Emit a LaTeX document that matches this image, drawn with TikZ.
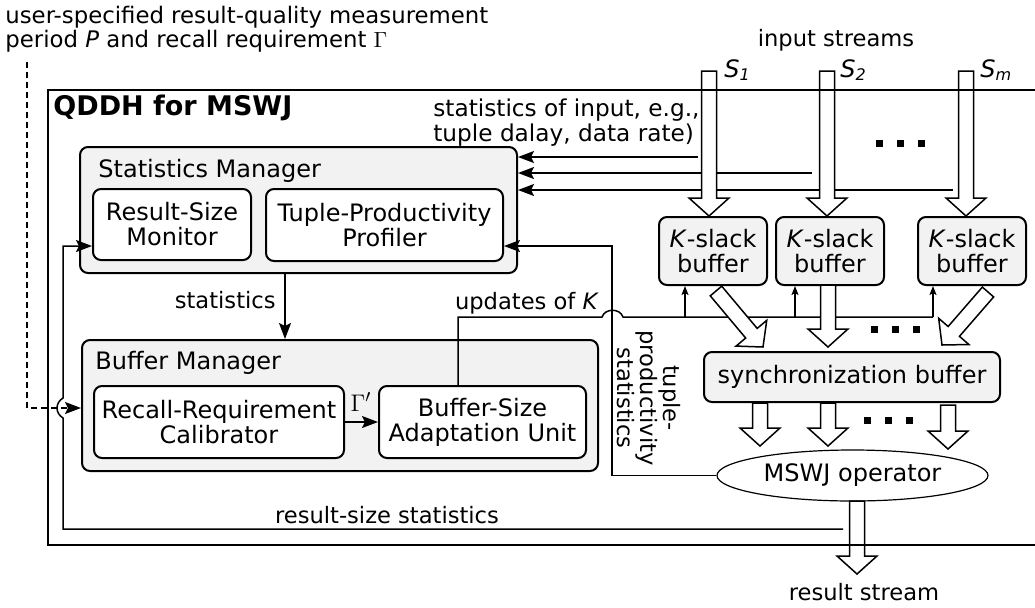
\documentclass[tikz,border=0pt]{standalone}
\usepackage{fontspec}
\setmainfont{DejaVu Sans}
\usetikzlibrary{calc,arrows.meta,shapes.geometric}

\definecolor{boxgray}{RGB}{242,242,242}

% hollow block arrow from #1 to #2 (shaft 15, head 40 wide, head 18 long)
\newcommand\fatarrow[2]{%
  \coordinate (fa-neck) at ($(#2)!9pt!(#1)$);
  \draw[fatline]
    ($(#1)!3.75pt!90:(#2)$) -- ($(fa-neck)!3.75pt!90:(#2)$) --
    ($(fa-neck)!10pt!90:(#2)$) -- (#2) --
    ($(fa-neck)!10pt!-90:(#2)$) -- ($(fa-neck)!3.75pt!-90:(#2)$) --
    ($(#1)!3.75pt!-90:(#2)$) -- cycle;}

% row of three small squares
\newcommand\dotrow[3]{%
  \foreach \dx in {0,1,2}{\fill ($(#1,#3)+(\dx*#2,0)+(-3.5,-3.5)$) rectangle +(7,7);}}

\begin{document}
\begin{tikzpicture}[x=0.5pt,y=-0.5pt,
  every node/.style={font=\fontsize{12}{12.5}\selectfont},
  lbl/.style={font=\fontsize{11.3}{12}\selectfont, inner sep=0pt},
  grpbox/.style={draw, rounded corners=4pt, fill=boxgray, line width=1pt},
  unitbox/.style={draw, rounded corners=4pt, fill=white, line width=1pt, align=center, inner sep=0pt},
  kbox/.style={draw, rounded corners=4pt, fill=boxgray, line width=1pt, align=center, inner sep=0pt},
  fatline/.style={draw, fill=white, line width=0.75pt, line join=miter},
  conn/.style={line width=0.75pt, -{Stealth[length=8pt,width=6pt,inset=1.5pt]}},
  sconn/.style={line width=0.75pt, -{Stealth[length=4.5pt,width=3.5pt,inset=1pt]}},
  wire/.style={line width=0.75pt}]
\useasboundingbox (0,0) rectangle (1035,607);

% ---- text above the system
\node[lbl, anchor=north west, align=left, font=\fontsize{11.4}{12}\selectfont] (user) at (5,6)
  {user-specified result-quality measurement\\period \textit{P} and recall requirement $\Gamma$};
\node[lbl] (instr) at (836,40) {input streams};

% ---- managers
\node[grpbox, minimum width=218.5pt, minimum height=63pt] (sm) at (298.5,210) {};
\node[anchor=base west, inner sep=0pt] (smt) at (98,177) {Statistics Manager};
\node[unitbox, minimum width=79pt, minimum height=35.5pt] (rsm) at (172,224.5) {Result-Size\\Monitor};
\node[unitbox, minimum width=118.5pt, minimum height=36pt] (tpp) at (384.5,225) {Tuple-Productivity\\Profiler};

\node[grpbox, minimum width=258pt, minimum height=65.5pt] (bm) at (340,405.5) {};
\node[anchor=base west, inner sep=0pt] (bmt) at (95,369) {Buffer Manager};
\node[unitbox, minimum width=125pt, minimum height=36pt] (rrc) at (219,422) {Recall-Requirement\\Calibrator};
\node[unitbox, minimum width=103.5pt, minimum height=36pt] (bsa) at (482.5,422) {Buffer-Size\\Adaptation Unit};

% ---- buffers and operator
\node[kbox, minimum width=54pt, minimum height=34pt] (k1) at (713,251) {\textit{K}-slack\\buffer};
\node[kbox, minimum width=54pt, minimum height=34pt] (k2) at (830,251) {\textit{K}-slack\\buffer};
\node[kbox, minimum width=54pt, minimum height=34pt] (k3) at (972,251) {\textit{K}-slack\\buffer};
\node[kbox, minimum width=148pt, minimum height=25pt] (sync) at (852,377) {synchronization buffer};
\node[draw, ellipse, line width=0.6pt, minimum width=135.5pt, minimum height=25.5pt, inner sep=0pt] (op) at (852.5,475.5) {MSWJ operator};

% ---- input statistics to the statistics manager
\coordinate (st1) at (698,157);
\coordinate (st2) at (812,173);
\coordinate (st3) at (953,190);
\draw[conn] (st1) -- (st1 -| sm.east);
\draw[conn] (st2) -- (st2 -| sm.east);
\draw[conn] (st3) -- (st3 -| sm.east);
\node[lbl, anchor=west, align=left, font=\fontsize{11.6}{10}\selectfont] (instat) at (433,122.5)
  {statistics of input, e.g.,\\tuple dalay, data rate)};

% ---- input streams
\coordinate (in1) at (709,71);
\coordinate (in2) at (827,71);
\coordinate (in3) at (966,71);
\coordinate (in1e) at (in1 |- k1.north);
\coordinate (in2e) at (in2 |- k2.north);
\coordinate (in3e) at (in3 |- k3.north);
\fatarrow{in1}{in1e}
\fatarrow{in2}{in2e}
\fatarrow{in3}{in3e}
\node[anchor=west, inner sep=0pt] (s1) at (724,70) {\textit{S}\textsubscript{\textit{1}}};
\node[anchor=west, inner sep=0pt] (s2) at (840,70) {\textit{S}\textsubscript{\textit{2}}};
\node[anchor=west, inner sep=0pt] (s3) at (980,70) {\textit{S}\textsubscript{\textit{m}}};
\dotrow{879}{21}{143}

% ---- statistics to buffer manager
\draw[conn] (sm.south -| 285,0) -- (bm.north -| 285,0);
\node[lbl, anchor=east] (statl) at (276,300) {statistics};

% ---- calibrated requirement
\draw[conn] (rrc.east) -- (bsa.west);
\node[inner sep=0pt, font=\fontsize{13}{13}\selectfont] (gam) at (361,402) {$\Gamma'$};

% ---- updates of K
\coordinate (u1) at (458,317);
\coordinate (ub1) at (685,317);
\coordinate (ub2) at (795,317);
\coordinate (ub3) at (933,317);
\draw[wire] (bsa.north -| u1) -- (u1) -- (602,317)
  .. controls (605,308) and (620,308) .. (623,317) -- (ub3);
\draw[sconn] (ub1) -- (ub1 |- k1.south);
\draw[sconn] (ub2) -- (ub2 |- k2.south);
\draw[sconn] (ub3) -- (ub3 |- k3.south);
\node[lbl, anchor=base] (updl) at (527,309) {updates of \textit{K}};

% ---- tuple-productivity statistics
\coordinate (tp1) at (612,475.5);
\coordinate (tp2) at (612,246);
\draw[conn] (op.west) -- (tp1) -- (tp2) -- (tp2 -| tpp.east);
\node[lbl, rotate=-90, align=center, font=\fontsize{11.3}{11.5}\selectfont] (tpl) at (649,398)
  {tuple-\\productivity\\statistics};

% ---- buffers to synchronization buffer
\coordinate (d1s) at (716,291);
\coordinate (d1e) at (763,347);
\coordinate (d2s) at (828,285);
\coordinate (d2e) at (828,347);
\coordinate (d3s) at (988,292);
\coordinate (d3e) at (942,345);
\fatarrow{d1s}{d1e}
\fatarrow{d2s}{d2e}
\fatarrow{d3s}{d3e}
\dotrow{874}{21}{329}

% ---- synchronization buffer to operator
\coordinate (o1s) at (760,403);
\coordinate (o1e) at (760,446);
\coordinate (o2s) at (828,403);
\coordinate (o2e) at (828,446);
\coordinate (o3s) at (948,405);
\coordinate (o3e) at (948,449);
\fatarrow{o1s}{o1e}
\fatarrow{o2s}{o2e}
\fatarrow{o3s}{o3e}
\dotrow{867}{21}{420}

% ---- result stream and result-size statistics
\coordinate (rs1) at (857,501);
\coordinate (rs2) at (857,574);
\coordinate (rz0) at (843,529);
\coordinate (rz1) at (63,529);
\coordinate (rz2) at (63,246);
\draw[conn] (rz0) -- (rz1) -- (63,418)
  .. controls (55,413) and (55,403) .. (63,398) -- (rz2) -- (rz2 -| rsm.west);
\node[lbl] (rzl) at (387,515) {result-size statistics};
\fatarrow{rs1}{rs2}
\node[lbl] (rsl) at (864,592) {result stream};

% ---- user requirement (dashed)
\coordinate (q0) at (27,62);
\coordinate (q1) at (27,408);
\draw[conn, dash pattern=on 3pt off 2pt] (q0) -- (q1) -- (q1 -| bm.west);

% ---- system boundary
\draw[line width=1pt] (1040,90) -- (48,90) -- (48,545) -- (1040,545);
\node[anchor=west, inner sep=0pt, font=\bfseries\fontsize{13.5}{14}\selectfont] (title) at (53,108) {QDDH for MSWJ};
\end{tikzpicture}
\end{document}
